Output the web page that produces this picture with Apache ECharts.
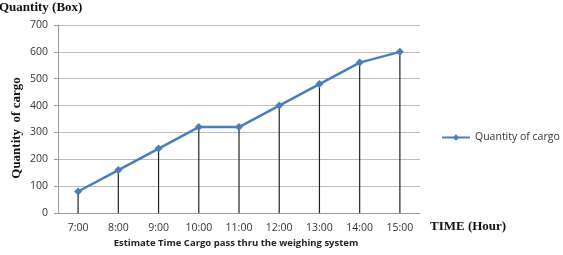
<!DOCTYPE html>
<html><head><meta charset="utf-8">
<script src="https://cdn.jsdelivr.net/npm/echarts@6/dist/echarts.min.js"></script>
<style>html,body{margin:0;padding:0;background:#fff}#c{width:563px;height:255px}</style>
</head><body><div id="c"></div>
<script>
const categories = ['7:00','8:00','9:00','10:00','11:00','12:00','13:00','14:00','15:00'];
const quantity = [80,160,240,320,320,400,480,560,600];
const yTicks = [0,100,200,300,400,500,600,700];

const chart = echarts.init(document.getElementById('c'));
chart.setOption({
  animation: false,
  grid: {left: 58, right: 143, top: 25, bottom: 42},
  legend: {
    data: [{name: 'Quantity of cargo'}],
    left: 436, top: 127, itemWidth: 28, itemHeight: 8,
    textStyle: {fontFamily: 'Open Sans', fontSize: 10.5, color: '#333'}
  },
  graphic: [
    {type: 'text', left: -1, top: 1, style: {text: 'Quantity (Box)', font: 'bold 13px "Liberation Serif"', fill: '#111'}},
    {type: 'text', left: 430, top: 220, style: {text: 'TIME (Hour)', font: 'bold 13px "Liberation Serif"', fill: '#111'}},
    {type: 'text', x: 236, y: 243, style: {text: 'Estimate Time Cargo pass thru the weighing system', font: 'bold 9.5px "Open Sans"', fill: '#222', align: 'center', verticalAlign: 'middle'}},
    {type: 'text', x: 17, y: 128, rotation: Math.PI/2, style: {text: 'Quantity  of cargo', font: 'bold 13px "Liberation Serif"', fill: '#111', align: 'center', verticalAlign: 'middle'}}
  ],
  xAxis: {
    type: 'category', data: categories, boundaryGap: true,
    axisLine: {lineStyle: {color: '#999', width: 1}},
    axisTick: {show: false},
    axisLabel: {fontFamily: 'Open Sans', fontSize: 10.5, color: '#333', margin: 10}
  },
  yAxis: {
    type: 'value', min: yTicks[0], max: yTicks[yTicks.length-1], interval: 100,
    axisLine: {show: true, lineStyle: {color: '#999'}},
    axisTick: {show: true, length: 4, lineStyle: {color: '#999'}},
    axisLabel: {fontFamily: 'Open Sans', fontSize: 10.5, color: '#333', margin: 10},
    splitLine: {lineStyle: {color: '#bbb', width: 1}}
  },
  series: [
    {name: 'drop', type: 'bar', data: quantity, barWidth: 1.2, silent: true,
     itemStyle: {color: '#222'}, z: 1},
    {name: 'Quantity of cargo', type: 'line', data: quantity, symbol: 'diamond', symbolSize: 8,
     lineStyle: {color: '#4a7ebb', width: 2.5}, itemStyle: {color: '#4a7ebb'}, z: 3}
  ]
});
</script></body></html>
